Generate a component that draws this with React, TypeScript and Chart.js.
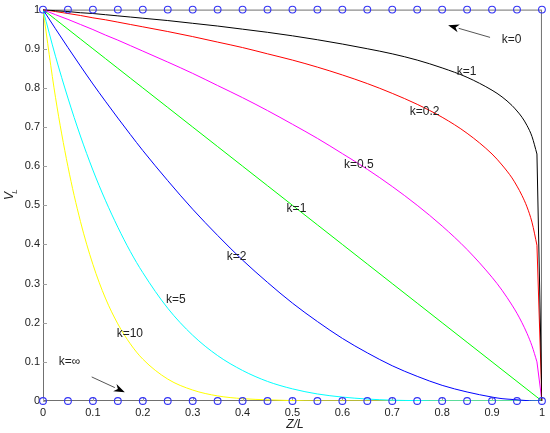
import { useEffect, useRef } from "react";
import { Chart, registerables } from "chart.js";

Chart.register(...registerables);

// Shared Z/L sample positions for the curves
const zGrid = [0, 0.025, 0.05, 0.075, 0.1, 0.125, 0.15, 0.175, 0.2, 0.25, 0.3, 0.35, 0.4, 0.45, 0.5, 0.55, 0.6, 0.65, 0.7, 0.75, 0.8, 0.85, 0.9, 0.92, 0.94, 0.95, 0.96, 0.97, 0.98, 0.99, 1];

const vBlack = [1, 0.997, 0.995, 0.992, 0.99, 0.987, 0.984, 0.981, 0.978, 0.972, 0.965, 0.958, 0.95, 0.942, 0.933, 0.923, 0.912, 0.9, 0.887, 0.871, 0.851, 0.827, 0.794, 0.777, 0.755, 0.741, 0.725, 0.704, 0.676, 0.631, 0];
const vRed = [1, 0.995, 0.99, 0.985, 0.979, 0.974, 0.968, 0.962, 0.956, 0.944, 0.931, 0.917, 0.903, 0.887, 0.871, 0.853, 0.833, 0.811, 0.786, 0.758, 0.725, 0.684, 0.631, 0.603, 0.57, 0.549, 0.525, 0.496, 0.457, 0.398, 0];
const vMagenta = [1, 0.987, 0.975, 0.962, 0.949, 0.935, 0.922, 0.908, 0.894, 0.866, 0.837, 0.806, 0.775, 0.742, 0.707, 0.671, 0.632, 0.592, 0.548, 0.5, 0.447, 0.387, 0.316, 0.283, 0.245, 0.224, 0.2, 0.173, 0.141, 0.1, 0];
const vGreen = [1, 0.975, 0.95, 0.925, 0.9, 0.875, 0.85, 0.825, 0.8, 0.75, 0.7, 0.65, 0.6, 0.55, 0.5, 0.45, 0.4, 0.35, 0.3, 0.25, 0.2, 0.15, 0.1, 0.08, 0.06, 0.05, 0.04, 0.03, 0.02, 0.01, 0];
const vBlue = [1, 0.951, 0.903, 0.856, 0.81, 0.766, 0.723, 0.681, 0.64, 0.563, 0.49, 0.423, 0.36, 0.303, 0.25, 0.203, 0.16, 0.123, 0.09, 0.063, 0.04, 0.023, 0.01, 0.006, 0.004, 0.003, 0.002, 0.001, 0, 0, 0];
const vCyan = [1, 0.881, 0.774, 0.677, 0.59, 0.513, 0.444, 0.382, 0.328, 0.237, 0.168, 0.116, 0.078, 0.05, 0.031, 0.018, 0.01, 0.005, 0.002, 0.001, 0, 0, 0, 0, 0, 0, 0, 0, 0, 0, 0];
const vYellow = [1, 0.776, 0.599, 0.459, 0.349, 0.263, 0.197, 0.146, 0.107, 0.056, 0.028, 0.013, 0.006, 0.003, 0.001, 0, 0, 0, 0, 0, 0, 0, 0, 0, 0, 0, 0, 0, 0, 0, 0];

// Circle markers (k=0 on top, k=inf on bottom)
const circleZ = [0, 0.05, 0.1, 0.15, 0.2, 0.25, 0.3, 0.35, 0.4, 0.45, 0.5, 0.55, 0.6, 0.65, 0.7, 0.75, 0.8, 0.85, 0.9, 0.95, 1];
const circleTopV = [1, 1, 1, 1, 1, 1, 1, 1, 1, 1, 1, 1, 1, 1, 1, 1, 1, 1, 1, 1, 1];
const circleBottomV = [0, 0, 0, 0, 0, 0, 0, 0, 0, 0, 0, 0, 0, 0, 0, 0, 0, 0, 0, 0, 0];

// Ticks
const xTicks = [0, 0.1, 0.2, 0.3, 0.4, 0.5, 0.6, 0.7, 0.8, 0.9, 1];
const xTickLabels = ["0", "0.1", "0.2", "0.3", "0.4", "0.5", "0.6", "0.7", "0.8", "0.9", "1"];
const yTicks = [0, 0.1, 0.2, 0.3, 0.4, 0.5, 0.6, 0.7, 0.8, 0.9, 1];
const yTickLabels = ["0", "0.1", "0.2", "0.3", "0.4", "0.5", "0.6", "0.7", "0.8", "0.9", "1"];

// Annotations (text, z, v)
const labelTexts = ["k=0", "k=1", "k=0.2", "k=0.5", "k=1", "k=2", "k=5", "k=10", "k=∞"];
const labelZ = [0.939, 0.849, 0.765, 0.633, 0.508, 0.388, 0.266, 0.174, 0.053];
const labelV = [0.924, 0.841, 0.739, 0.604, 0.491, 0.368, 0.26, 0.172, 0.101];

// Arrows: tail -> tip
const arrowTailZ = [0.896, 0.0976];
const arrowTailV = [0.929, 0.0615];
const arrowTipZ = [0.812, 0.164];
const arrowTipV = [0.96, 0.0224];

const FONT = "'Liberation Sans', Arial, sans-serif";
const AXIS_COLOR = "#707070";
const TEXT_COLOR = "#222222";

function pts(xs: number[], ys: number[]) {
  return xs.map((x, i) => ({ x, y: ys[i] }));
}

// main smooth part up to the last-but-one sample, then a straight final segment
function curve(label: string, values: number[], color: string) {
  const base = {
    borderColor: color,
    backgroundColor: color,
    borderWidth: 1,
    pointRadius: 0,
    fill: false,
    order: 2,
  };
  return [
    { ...base, label, data: pts(zGrid.slice(0, -1), values.slice(0, -1)), cubicInterpolationMode: "monotone" as const },
    { ...base, label: label + " end", data: pts(zGrid.slice(-2), values.slice(-2)), tension: 0 },
  ];
}

function circles(label: string, values: number[]) {
  return {
    label,
    data: pts(circleZ, values),
    showLine: false,
    pointRadius: 3.4,
    pointBorderWidth: 1.1,
    pointBorderColor: "#3333f5",
    pointBackgroundColor: "rgba(0,0,0,0)",
    clip: false as any,
    order: 0,
  };
}

const decorPlugin = {
  id: "decor",
  beforeDatasetsDraw(chart: any) {
    const { ctx, chartArea } = chart;
    const xs = chart.scales.x;
    const ys = chart.scales.y;
    ctx.save();
    ctx.strokeStyle = AXIS_COLOR;
    ctx.lineWidth = 1;
    ctx.strokeRect(chartArea.left + 0.5, chartArea.top + 0.5, chartArea.right - chartArea.left - 1, chartArea.bottom - chartArea.top - 1);
    ctx.strokeStyle = "#a0a0a0";
    ctx.beginPath();
    for (const v of yTicks) {
      const y = Math.round(ys.getPixelForValue(v)) + 0.5;
      ctx.moveTo(chartArea.left, y);
      ctx.lineTo(chartArea.left + 4, y);
    }
    for (const v of xTicks) {
      const x = Math.round(xs.getPixelForValue(v)) + 0.5;
      ctx.moveTo(x, chartArea.bottom);
      ctx.lineTo(x, chartArea.bottom - 4);
    }
    ctx.stroke();
    ctx.restore();
  },
  afterDatasetsDraw(chart: any) {
    const { ctx, chartArea } = chart;
    const xs = chart.scales.x;
    const ys = chart.scales.y;
    ctx.save();
    ctx.fillStyle = TEXT_COLOR;
    ctx.font = `12px ${FONT}`;
    ctx.textAlign = "center";
    ctx.textBaseline = "middle";
    labelTexts.forEach((t, i) => {
      ctx.fillText(t, xs.getPixelForValue(labelZ[i]), ys.getPixelForValue(labelV[i]));
    });
    // arrows
    arrowTailZ.forEach((_, i) => {
      const x1 = xs.getPixelForValue(arrowTailZ[i]);
      const y1 = ys.getPixelForValue(arrowTailV[i]);
      const x2 = xs.getPixelForValue(arrowTipZ[i]);
      const y2 = ys.getPixelForValue(arrowTipV[i]);
      const ang = Math.atan2(y2 - y1, x2 - x1);
      const len = 11;
      const hw = 4;
      const bx = x2 - len * Math.cos(ang);
      const by = y2 - len * Math.sin(ang);
      ctx.strokeStyle = "#555555";
      ctx.lineWidth = 1;
      ctx.beginPath();
      ctx.moveTo(x1, y1);
      ctx.lineTo(bx, by);
      ctx.stroke();
      ctx.fillStyle = "#000000";
      ctx.beginPath();
      ctx.moveTo(x2, y2);
      ctx.lineTo(bx + hw * Math.sin(ang), by - hw * Math.cos(ang));
      ctx.lineTo(x2 - len * 0.7 * Math.cos(ang), y2 - len * 0.7 * Math.sin(ang));
      ctx.lineTo(bx - hw * Math.sin(ang), by + hw * Math.cos(ang));
      ctx.closePath();
      ctx.fill();
    });
    // axis titles
    ctx.fillStyle = TEXT_COLOR;
    ctx.font = `italic 12px ${FONT}`;
    ctx.textAlign = "center";
    ctx.textBaseline = "middle";
    ctx.fillText("Z/L", 295, 425);
    ctx.save();
    ctx.translate(9.5, 196);
    ctx.rotate(-Math.PI / 2);
    ctx.font = `italic 12px ${FONT}`;
    ctx.textAlign = "center";
    ctx.textBaseline = "middle";
    ctx.fillText("V", 0, 0);
    ctx.font = `italic 8px ${FONT}`;
    ctx.fillText("L", 4.5, 5);
    ctx.restore();
    ctx.restore();
  },
};

export default function App() {
  const ref = useRef<HTMLCanvasElement>(null);
  useEffect(() => {
    document.body.style.margin = "0";
    const canvas = ref.current!;
    const chart = new Chart(canvas, {
      type: "scatter",
      data: {
        datasets: [
          circles("k=0", circleTopV),
          circles("k=inf", circleBottomV),
          ...curve("k=0.1", vBlack, "#000000"),
          ...curve("k=0.2", vRed, "#ff0000"),
          ...curve("k=0.5", vMagenta, "#ff00ff"),
          ...curve("k=1", vGreen, "#00ff00"),
          ...curve("k=2", vBlue, "#0000ff"),
          ...curve("k=5", vCyan, "#00ffff"),
          ...curve("k=10", vYellow, "#ffff00"),
        ] as any,
      },
      options: {
        responsive: false,
        animation: false,
        devicePixelRatio: 1,
        layout: { padding: { left: 0, right: 8, top: 8, bottom: 0 } },
        plugins: { legend: { display: false }, tooltip: { enabled: false } },
        datasets: { scatter: { showLine: true } } as any,
        scales: {
          x: {
            type: "linear",
            min: 0,
            max: 1,
            grid: { display: false, drawTicks: false },
            border: { display: false },
            afterBuildTicks: (s: any) => {
              s.ticks = xTicks.map((v) => ({ value: v }));
            },
            afterFit: (s: any) => {
              s.height = 32;
            },
            ticks: {
              padding: 5,
              color: TEXT_COLOR,
              font: { family: FONT, size: 11 },
              maxRotation: 0,
              autoSkip: false,
              callback: (_v: any, i: number) => xTickLabels[i],
            },
          },
          y: {
            type: "linear",
            min: 0,
            max: 1,
            grid: { display: false, drawTicks: false },
            border: { display: false },
            afterBuildTicks: (s: any) => {
              s.ticks = yTicks.map((v) => ({ value: v }));
            },
            afterFit: (s: any) => {
              s.width = 43;
            },
            ticks: {
              padding: 3,
              color: TEXT_COLOR,
              font: { family: FONT, size: 11 },
              autoSkip: false,
              callback: (_v: any, i: number) => yTickLabels[i],
            },
          },
        },
      },
      plugins: [decorPlugin],
    });
    return () => chart.destroy();
  }, []);
  return (
    <div style={{ position: "absolute", left: 0, top: 0, width: 550, height: 433 }}>
      <canvas ref={ref} width={550} height={433} />
    </div>
  );
}
